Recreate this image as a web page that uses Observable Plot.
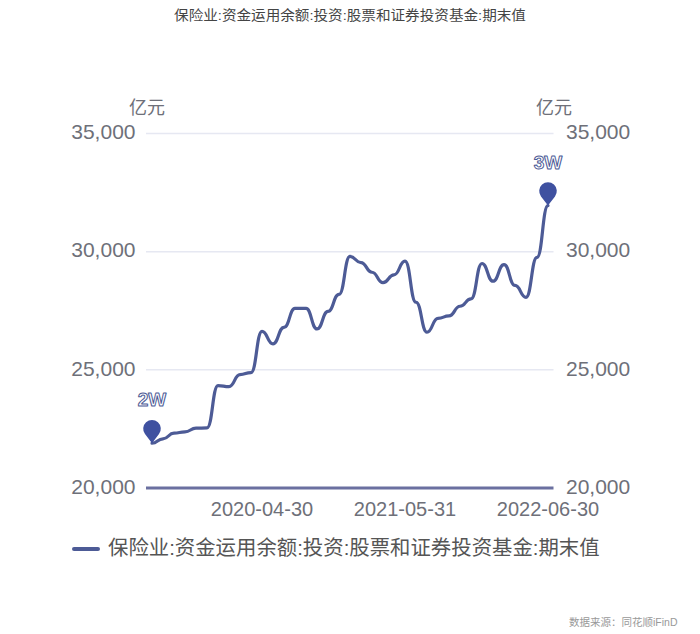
<!DOCTYPE html>
<html><head><meta charset="utf-8">
<script src="https://cdn.jsdelivr.net/npm/d3@7"></script>
<script src="https://cdn.jsdelivr.net/npm/@observablehq/plot@0.6"></script>
<style>
html,body{margin:0;padding:0;background:#fff}
#wrap{position:relative;width:700px;height:634px;overflow:hidden;font-family:"Liberation Sans","Noto Sans CJK SC",sans-serif}
#wrap svg{position:absolute;left:0;top:0;font-family:"Liberation Sans","Noto Sans CJK SC",sans-serif}
.t{position:absolute;white-space:nowrap;line-height:1}
</style></head><body>
<div id="wrap"></div>
<script>
const seriesName = "保险业:资金运用余额:投资:股票和证券投资基金:期末值";
const dates = ["2019-06-30","2019-07-31","2019-08-31","2019-09-30","2019-10-31","2019-11-30","2019-12-31",
"2020-01-31","2020-02-29","2020-03-31","2020-04-30","2020-05-31","2020-06-30","2020-07-31","2020-08-31","2020-09-30","2020-10-31","2020-11-30","2020-12-31",
"2021-01-31","2021-02-28","2021-03-31","2021-04-30","2021-05-31","2021-06-30","2021-07-31","2021-08-31","2021-09-30","2021-10-31","2021-11-30","2021-12-31",
"2022-01-31","2022-02-28","2022-03-31","2022-04-30","2022-05-31","2022-06-30"];
const values = [21895,22080,22320,22375,22530,22545,24335,24290,24800,24885,26630,26100,26800,27600,27600,26730,27470,28190,29800,29540,29130,28690,29020,29600,27860,26590,27180,27280,27690,28000,29500,28750,29450,28570,28070,29760,31950];
const xTicks = ["2020-04-30","2021-05-31","2022-06-30"];
const yTicks = [20000,25000,30000,35000];
const pinDates = ["2019-06-30","2022-06-30"];
const pinValues = [21895,31950];
const pinLabels = ["2W","3W"];
const unit = "亿元";
const source = "数据来源：同花顺iFinD";

const lineColor = "#4d5b96", pinColor = "#3f51a0", textColor = "#6e7079";
const rows = dates.map((d,i)=>({d,v:values[i]}));
const pins = pinDates.map((d,i)=>({d,v:pinValues[i],label:pinLabels[i]}));
const pinSymbol = {draw(c,size){
  const R = Math.sqrt(size/Math.PI), cy = -14.5;
  const a = Math.asin(R/14.5);
  c.moveTo(0,0);
  c.arc(0,cy,R,Math.PI-a,a,false);
  c.closePath();
}};
const fmt = d3.format(",");
const chart = Plot.plot({
  width:700,height:634,
  marginLeft:146,marginRight:146.5,marginTop:133,marginBottom:146.5,
  x:{type:"band",domain:dates,padding:0,label:null},
  y:{domain:[20000,35000],label:null},
  marks:[
    Plot.ruleY(yTicks.slice(1),{stroke:"#e6e8f2",strokeWidth:1.5}),
    Plot.ruleY([20000],{stroke:"#6b70a0",strokeWidth:3}),
    Plot.axisY({anchor:"left",ticks:yTicks,tickFormat:fmt,tickSize:0,tickPadding:11,fontSize:21,color:textColor,label:null,dy:-1}),
    Plot.axisY({anchor:"right",ticks:yTicks,tickFormat:fmt,tickSize:0,tickPadding:12,fontSize:21,color:textColor,label:null,dy:-1}),
    Plot.axisX({ticks:xTicks,tickSize:0,tickPadding:14,fontSize:20,color:textColor,label:null,tickFormat:d=>d}),
    Plot.line(rows,{x:"d",y:"v",curve:"bump-x",stroke:lineColor,strokeWidth:3.2}),
    Plot.dot(pins,{x:"d",y:"v",r:8.8,symbol:pinSymbol,fill:pinColor,stroke:"none"}),
    Plot.text(pins,{x:"d",y:"v",text:"label",dy:-43,fontSize:19,fontWeight:"bold",fill:"#fff",stroke:lineColor,strokeWidth:1,paintOrder:"normal"})
  ]
});
const wrap = document.getElementById("wrap");
wrap.appendChild(chart);
function addText(s,css){const e=document.createElement("div");e.className="t";e.textContent=s;e.style.cssText=css;wrap.appendChild(e);}
addText(seriesName,"left:0;width:700px;text-align:center;top:8px;font-size:14.6px;transform:scaleY(.9);color:#444");
addText(unit,"left:129px;top:99px;font-size:18px;color:"+textColor);
addText(unit,"left:536px;top:99px;font-size:18px;color:"+textColor);
const sw=document.createElement("div");sw.style.cssText="position:absolute;left:72px;top:547px;width:28px;height:4px;border-radius:2px;background:"+lineColor;wrap.appendChild(sw);
addText(seriesName,"left:108px;top:538px;font-size:20.4px;color:#555");
addText(source,"left:569px;top:617px;font-size:10.5px;color:#999");
</script>
</body></html>
